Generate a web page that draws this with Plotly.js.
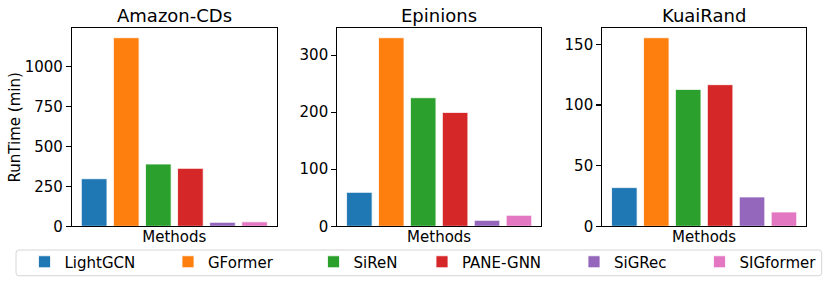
<!DOCTYPE html>
<html>
<head>
<meta charset="utf-8">
<script src="https://cdn.plot.ly/plotly-3.0.1.min.js"></script>
<style>html,body{margin:0;padding:0;background:#fff;}#chart{width:830px;height:284px;}</style>
</head>
<body>
<div id="chart"></div>
<script>
// ---- data ----
const methods = ["LightGCN", "GFormer", "SiReN", "PANE-GNN", "SiGRec", "SIGformer"];
const datasets = ["Amazon-CDs", "Epinions", "KuaiRand"];
const amazonCDs = [298, 1181, 390, 363, 25, 28];
const epinions = [59.5, 330.4, 225.3, 199.6, 10.5, 19.3];
const kuaiRand = [31.9, 155.5, 112.9, 116.8, 24.2, 11.8];
const yTickStep = [250, 100, 50];

// ---- styles ----
const colors = ["#1f77b4", "#ff7f0e", "#2ca02c", "#d62728", "#9467bd", "#e377c2"];
const W = 830, H = 284;
const FONT = "DejaVu Sans, Arial, sans-serif";
const panelsPx = [[72, 276.7], [337.3, 541], [602.3, 806]];
const topPx = 28.3, botPx = 226.3;
const legendTextStart = [64.5, 208, 353.5, 462, 614, 739.5];

const series = [amazonCDs, epinions, kuaiRand];
const traces = [];
series.forEach((vals, p) => {
  methods.forEach((m, i) => {
    traces.push({
      type: "bar",
      x: [m],
      y: [vals[i]],
      name: m,
      width: 0.8,
      marker: {color: colors[i], line: {color: "rgba(255,255,255,0.8)", width: 1}},
      xaxis: p === 0 ? "x" : "x" + (p + 1),
      yaxis: p === 0 ? "y" : "y" + (p + 1),
      showlegend: p === 0,
      legend: i === 0 ? "legend" : "legend" + (i + 1),
      hoverinfo: "skip"
    });
  });
});

const layout = {
  width: W, height: H,
  margin: {l: 0, r: 0, t: 0, b: 0},
  paper_bgcolor: "#fff", plot_bgcolor: "#fff",
  barmode: "overlay",
  font: {family: FONT, size: 15, color: "#000"},
  annotations: [],
  shapes: []
};

panelsPx.forEach((px, p) => {
  const sfx = p === 0 ? "" : String(p + 1);
  const maxV = Math.max(...series[p]);
  layout["xaxis" + sfx] = {
    domain: [px[0] / W, px[1] / W],
    anchor: "y" + sfx,
    type: "category",
    categoryarray: methods,
    range: [-0.69, 5.69],
    showticklabels: false,
    ticks: "",
    showgrid: false, zeroline: false,
    showline: true, mirror: true, linecolor: "#000", linewidth: 1.1,
    title: {text: "Methods", font: {size: 15}, standoff: 5},
    automargin: false
  };
  layout["yaxis" + sfx] = {
    domain: [1 - botPx / H, 1 - topPx / H],
    anchor: "x" + sfx,
    range: [0, maxV * 1.05],
    dtick: yTickStep[p], tick0: 0,
    ticks: "outside", ticklen: 5, tickwidth: 1.1, tickcolor: "#000",
    tickfont: {size: 15},
    showgrid: false, zeroline: false,
    showline: true, mirror: true, linecolor: "#000", linewidth: 1.1,
    automargin: false,
    title: p === 0 ? {text: "RunTime (min)", font: {size: 15}, standoff: 0} : {text: ""}
  };
  layout.annotations.push({
    text: datasets[p], xref: "paper", yref: "paper",
    x: (px[0] + px[1]) / 2 / W, y: 1 - 15 / H,
    xanchor: "center", yanchor: "middle", showarrow: false,
    font: {size: 18}
  });
});

// legends
methods.forEach((m, i) => {
  const key = i === 0 ? "legend" : "legend" + (i + 1);
  layout[key] = {
    orientation: "h",
    x: (legendTextStart[i] - 40) / W, xanchor: "left",
    y: 1 - 262 / H, yanchor: "middle",
    bgcolor: "rgba(0,0,0,0)", borderwidth: 0,
    font: {size: 15, family: FONT},
    itemclick: false, itemdoubleclick: false
  };
});

// legend frame (rounded rectangle)
(function () {
  const x0 = 16, x1 = 821.7, y0 = 250, y1 = 275.7, r = 3;
  const X = v => v / W, Y = v => 1 - v / H;
  const path = `M${X(x0 + r)},${Y(y0)} L${X(x1 - r)},${Y(y0)} Q${X(x1)},${Y(y0)} ${X(x1)},${Y(y0 + r)} ` +
    `L${X(x1)},${Y(y1 - r)} Q${X(x1)},${Y(y1)} ${X(x1 - r)},${Y(y1)} L${X(x0 + r)},${Y(y1)} ` +
    `Q${X(x0)},${Y(y1)} ${X(x0)},${Y(y1 - r)} L${X(x0)},${Y(y0 + r)} Q${X(x0)},${Y(y0)} ${X(x0 + r)},${Y(y0)} Z`;
  layout.shapes.push({type: "path", xref: "paper", yref: "paper", path: path,
    line: {color: "#d6d6d6", width: 1}, fillcolor: "rgba(0,0,0,0)", layer: "below"});
})();

Plotly.newPlot("chart", traces, layout, {displayModeBar: false, staticPlot: true});
</script>
</body>
</html>
